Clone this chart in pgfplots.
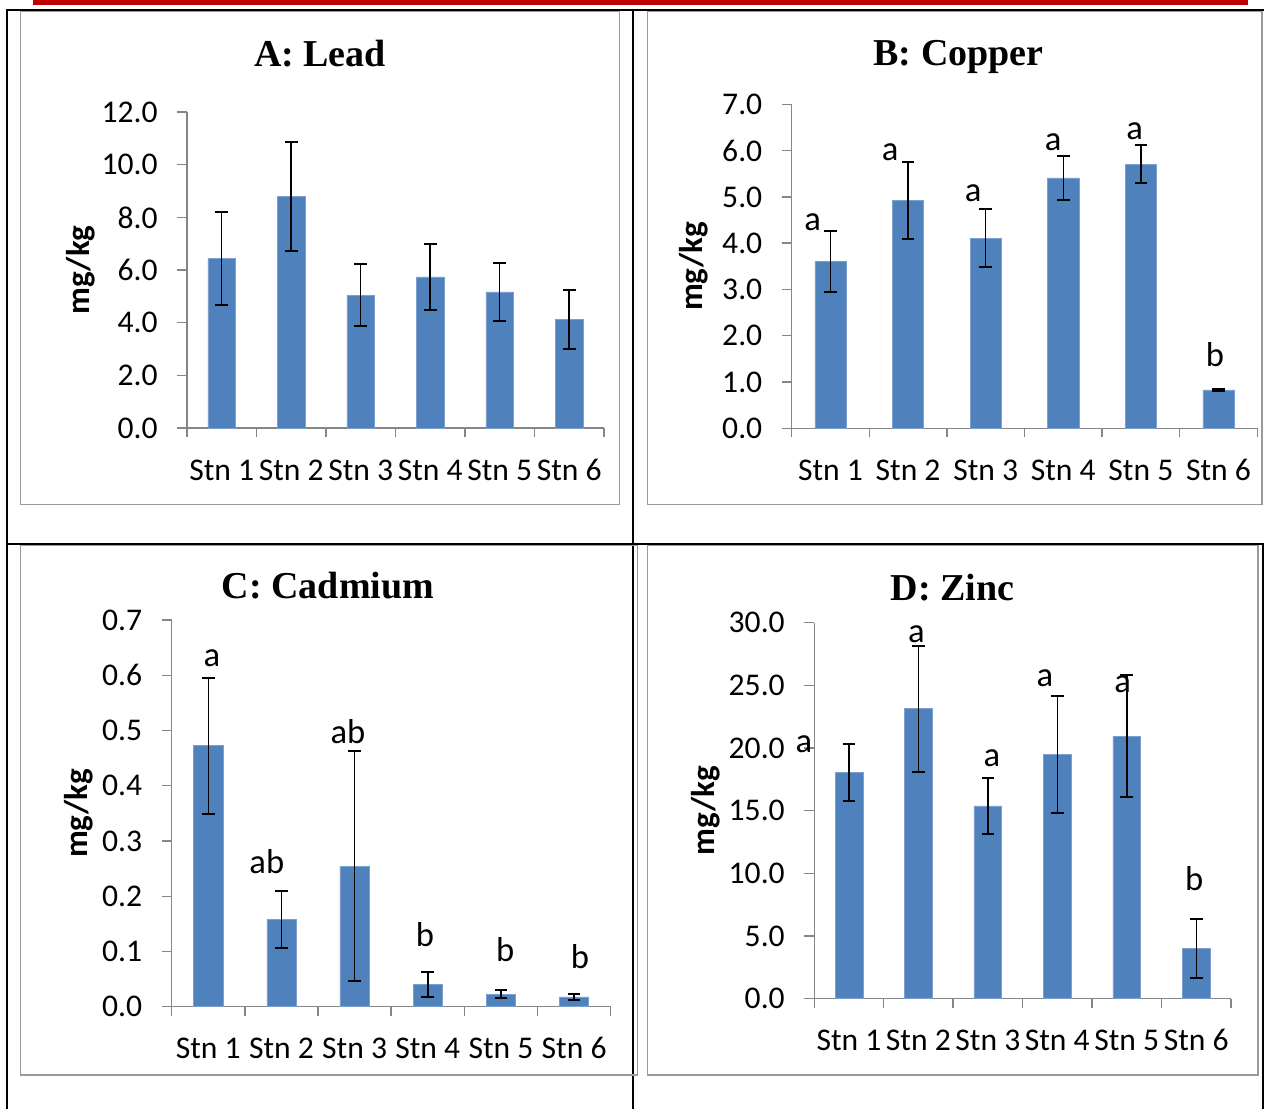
\documentclass[border=0pt]{standalone}
\usepackage{fontspec}
\setmainfont{Carlito}
\newfontfamily\timesfont{Liberation Serif}
\usepackage{pgfplots}
\pgfplotsset{compat=1.18}
\definecolor{barblue}{HTML}{4F81BD}
\definecolor{baredge}{HTML}{7BA0CD}
\definecolor{axgray}{HTML}{868686}
\definecolor{framegray}{HTML}{9A9A9A}
\definecolor{topred}{HTML}{C00000}
\newcommand{\tickfont}{\fontsize{15.8}{18}\selectfont}
\newcommand{\lettfont}{\fontsize{17.3}{20}\selectfont}
\newcommand{\titlefont}{\timesfont\bfseries\fontsize{19}{22}\selectfont}
\newcommand{\labfont}{\bfseries\fontsize{16.5}{18}\selectfont}
\tikzset{lett/.style={font=\lettfont, anchor=base, inner sep=0pt}}
\pgfplotsset{
  panel/.style={
    scale only axis, anchor=south west,
    axis x line*=bottom, axis y line*=left,
    axis line style={draw=axgray, line width=0.7pt, -},
    xmin=-0.5, xmax=5.5, ymin=0,
    xtick={0,...,5}, xticklabels={Stn 1,Stn 2,Stn 3,Stn 4,Stn 5,Stn 6},
    minor xtick={-0.5,0.5,1.5,2.5,3.5,4.5,5.5},
    major x tick style={draw=none},
    minor x tick style={draw=axgray, line width=0.7pt},
    ytick style={draw=axgray, line width=0.7pt},
    tick align=outside, major tick length=5pt, minor tick length=4.5pt,
    /pgf/number format/assume math mode=true,
    tick label style={font=\tickfont, text=black},
    xticklabel style={anchor=base, yshift=-21pt},
    yticklabel style={anchor=east, xshift=-6.2pt,
      /pgf/number format/fixed, /pgf/number format/fixed zerofill,
      /pgf/number format/precision=1},
    ybar, bar width=0.4, clip=false,
  },
  bars/.style={fill=barblue, draw=baredge, line width=0.3pt,
    error bars/.cd, y dir=both, y explicit,
    error bar style={black, line width=0.75pt},
    error mark=|, error mark options={black, mark size=3.15pt, line width=1pt}},
}
\begin{document}
\begin{tikzpicture}
\useasboundingbox (0,0) rectangle (632pt,-554.5pt);
\begin{scope}[x=0.5pt,y=-0.5pt]
  \fill[topred] (33,0) rectangle (1248,5);
  \draw[black, line width=1pt] (7,9.5) -- (1264,9.5);
  \draw[black, line width=1pt] (7,9) -- (7,1109);
  \draw[black, line width=1pt] (633,9) -- (633,1109);
  \draw[black, line width=1pt] (7,544) -- (1264,544);
  \draw[black, line width=1pt] (1262.5,544) -- (1262.5,1109);
  \draw[framegray, line width=0.8pt] (20.5,11.5) rectangle (619.5,504.5);
  \draw[framegray, line width=0.8pt] (647.5,11.5) rectangle (1262,504.5);
  \draw[framegray, line width=0.8pt] (20.5,545.5) rectangle (637.5,1075);
  \draw[framegray, line width=0.8pt] (647.5,545.5) rectangle (1258,1075);
  \node[font=\titlefont, anchor=base] at (320,66.7) {A: Lead};
  \node[font=\titlefont, anchor=base] at (958.5,65) {B: Copper};
  \node[font=\titlefont, anchor=base] at (328,598.3) {C: Cadmium};
  \node[font=\titlefont, anchor=base] at (952.5,600) {D: Zinc};
\end{scope}

% A: Lead
\begin{axis}[panel, at={(93.5pt,-214pt)}, width=208.5pt, height=158pt,
  ymax=12, ytick={0,2,4,6,8,10,12}]
\addplot[bars] coordinates {
 (0,6.44) +- (0,1.75)
 (1,8.80) +- (0,2.08)
 (2,5.05) +- (0,1.18)
 (3,5.74) +- (0,1.25)
 (4,5.17) +- (0,1.09)
 (5,4.11) +- (0,1.12)
};
\node[font=\labfont, xshift=-53pt, rotate=90] at (rel axis cs:0,0.5) {mg/kg};
\end{axis}

% B: Copper
\begin{axis}[panel, at={(395.85pt,-214.15pt)}, width=232.8pt, height=162pt,
  ymax=7, ytick={0,1,2,3,4,5,6,7}]
\addplot[bars] coordinates {
 (0,3.60) +- (0,0.66)
 (1,4.93) +- (0,0.83)
 (2,4.11) +- (0,0.63)
 (3,5.41) +- (0,0.47)
 (4,5.71) +- (0,0.42)
 (5,0.83) +- (0,0.03)
};
\node[font=\labfont, xshift=-49pt, rotate=90] at (rel axis cs:0,0.5) {mg/kg};
\node[lett] at (axis cs:-0.23,4.28) {a};
\node[lett] at (axis cs:0.77,5.78) {a};
\node[lett] at (axis cs:1.84,4.91) {a};
\node[lett] at (axis cs:2.87,6.01) {a};
\node[lett] at (axis cs:3.92,6.23) {a};
\node[lett] at (axis cs:4.955,1.33) {b};
\end{axis}

% C: Cadmium
\begin{axis}[panel, at={(85.85pt,-503.35pt)}, width=219.5pt, height=193.35pt,
  ymax=0.7, ytick={0,0.1,0.2,0.3,0.4,0.5,0.6,0.7}]
\addplot[bars] coordinates {
 (0,0.4725) +- (0,0.123)
 (1,0.158) +- (0,0.051)
 (2,0.2547) +- (0,0.208)
 (3,0.041) +- (0,0.0226)
 (4,0.023) +- (0,0.0078)
 (5,0.0176) +- (0,0.006)
};
\node[font=\labfont, xshift=-46.3pt, rotate=90] at (rel axis cs:0,0.5) {mg/kg};
\node[lett] at (axis cs:0.05,0.6155) {a};
\node[lett] at (axis cs:0.8,0.2415) {ab};
\node[lett] at (axis cs:1.91,0.4768) {ab};
\node[lett] at (axis cs:2.96,0.1086) {b};
\node[lett] at (axis cs:4.06,0.0815) {b};
\node[lett] at (axis cs:5.08,0.0695) {b};
\end{axis}

% D: Zinc
\begin{axis}[panel, at={(407.1pt,-499.35pt)}, width=208.4pt, height=188pt,
  ymax=30, ytick={0,5,10,15,20,25,30}]
\addplot[bars] coordinates {
 (0,18.06) +- (0,2.30)
 (1,23.14) +- (0,5.03)
 (2,15.38) +- (0,2.20)
 (3,19.50) +- (0,4.68)
 (4,20.96) +- (0,4.83)
 (5,4.02) +- (0,2.37)
};
\node[font=\labfont, xshift=-54pt, rotate=90] at (rel axis cs:0,0.5) {mg/kg};
\node[lett] at (axis cs:-0.65,19.63) {a};
\node[lett] at (axis cs:0.97,28.4) {a};
\node[lett] at (axis cs:2.06,18.51) {a};
\node[lett] at (axis cs:2.82,24.95) {a};
\node[lett] at (axis cs:3.94,24.42) {a};
\node[lett] at (axis cs:4.97,8.67) {b};
\end{axis}
\end{tikzpicture}
\end{document}
